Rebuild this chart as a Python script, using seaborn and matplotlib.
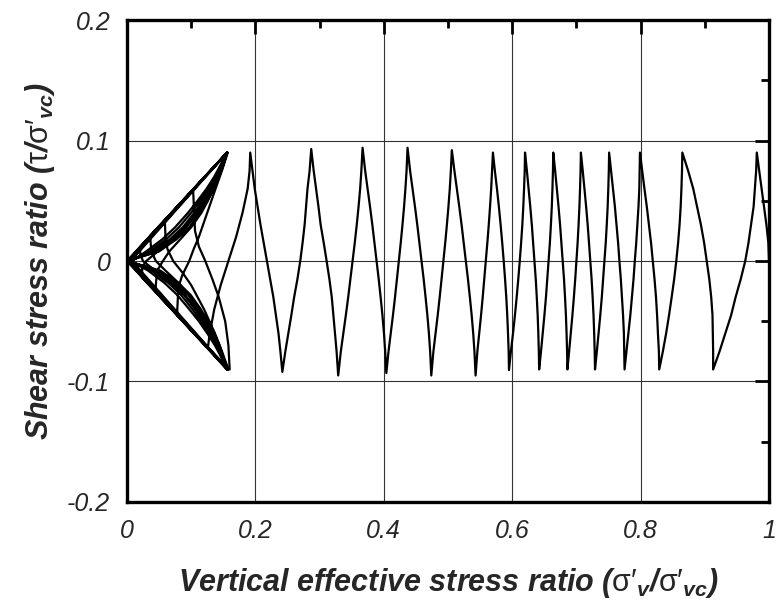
import matplotlib
matplotlib.use("Agg")
import matplotlib.pyplot as plt
import numpy as np
import pandas as pd
import seaborn as sns
from matplotlib.ticker import MultipleLocator

# ---------------- data ----------------
# initial loading from (1, 0) to the first peak
start_x = [1.000, 0.999, 0.996, 0.991, 0.986]
start_tau = [0.000, 0.015, 0.030, 0.050, 0.070]

# alternating peaks (top, bottom, top, ...) of the regular cycles
peak_x = [0.981, 0.913, 0.865, 0.829, 0.799, 0.775, 0.751, 0.729, 0.707, 0.686,
          0.664, 0.642, 0.620, 0.595, 0.570, 0.543, 0.506, 0.474, 0.437, 0.404,
          0.367, 0.329, 0.287, 0.242, 0.192]
peak_tau = [0.090, -0.090, 0.090, -0.090, 0.090, -0.090, 0.090, -0.090, 0.090, -0.090,
            0.090, -0.090, 0.090, -0.0905, 0.090, -0.095, 0.092, -0.095, 0.094, -0.093,
            0.094, -0.095, 0.093, -0.092, 0.090]

# intermediate points of each segment between two peaks
mid_tau_down = [0.075, 0.06, 0.045, 0.03, 0.015, 0.0, -0.015, -0.03, -0.045, -0.06, -0.075]
mid_tau_up = [-0.075, -0.06, -0.045, -0.03, -0.015, 0.0, 0.015, 0.03, 0.045, 0.06, 0.075]
mid_x = [
    [0.980, 0.978, 0.976, 0.972, 0.968, 0.963, 0.956, 0.948, 0.941, 0.932, 0.923],
    [0.913, 0.9125, 0.912, 0.910, 0.907, 0.903, 0.899, 0.894, 0.888, 0.882, 0.874],
    [0.8645, 0.8636, 0.8624, 0.8607, 0.8584, 0.8556, 0.8523, 0.8484, 0.8443, 0.8398, 0.8347],
    [0.8285, 0.827, 0.8257, 0.824, 0.8217, 0.819, 0.8163, 0.813, 0.8097, 0.806, 0.8025],
    [0.7985, 0.798, 0.7967, 0.795, 0.7932, 0.791, 0.789, 0.7865, 0.784, 0.781, 0.778],
    [0.7745, 0.774, 0.7727, 0.771, 0.7692, 0.767, 0.765, 0.7625, 0.760, 0.757, 0.754],
    [0.7505, 0.7497, 0.7487, 0.7473, 0.7457, 0.7437, 0.7418, 0.7396, 0.7372, 0.7346, 0.7319],
    [0.7285, 0.7277, 0.7267, 0.7253, 0.7237, 0.7217, 0.7198, 0.7176, 0.7152, 0.7126, 0.7099],
    [0.7065, 0.7057, 0.7047, 0.7034, 0.7019, 0.7001, 0.6982, 0.6961, 0.6938, 0.6913, 0.6887],
    [0.6855, 0.6847, 0.6837, 0.6823, 0.6807, 0.6787, 0.6768, 0.6746, 0.6722, 0.6696, 0.6669],
    [0.6635, 0.6627, 0.6617, 0.6603, 0.6587, 0.6567, 0.6548, 0.6526, 0.6502, 0.6476, 0.6449],
    [0.6415, 0.6407, 0.6397, 0.6383, 0.6367, 0.6347, 0.6328, 0.6306, 0.6282, 0.6256, 0.6229],
    [0.6195, 0.6185, 0.6173, 0.6158, 0.6139, 0.6118, 0.6095, 0.607, 0.6043, 0.6013, 0.598],
    [0.5945, 0.5935, 0.5923, 0.5908, 0.5889, 0.5868, 0.5845, 0.582, 0.5793, 0.5763, 0.573],
    [0.5687, 0.5673, 0.5655, 0.5635, 0.5613, 0.5589, 0.5565, 0.5541, 0.5515, 0.5487, 0.5458],
    [0.5412, 0.5393, 0.5369, 0.5341, 0.5311, 0.5278, 0.5245, 0.5212, 0.5176, 0.5138, 0.510],
    [0.5045, 0.5028, 0.5007, 0.4983, 0.4957, 0.4929, 0.4900, 0.4871, 0.4840, 0.4807, 0.4773],
    [0.4722, 0.4703, 0.4679, 0.4651, 0.4621, 0.4588, 0.4555, 0.4522, 0.4486, 0.4448, 0.441],
    [0.4355, 0.4337, 0.4316, 0.4291, 0.4264, 0.4235, 0.4205, 0.4175, 0.4143, 0.4109, 0.4074],
    [0.4022, 0.4003, 0.3979, 0.3951, 0.3921, 0.3888, 0.3855, 0.3822, 0.3786, 0.3748, 0.371],
    [0.3651, 0.3632, 0.3607, 0.3579, 0.3548, 0.3514, 0.348, 0.3446, 0.3409, 0.337, 0.3331],
    [0.3265, 0.324, 0.3215, 0.319, 0.3153, 0.311, 0.3065, 0.3017, 0.2983, 0.2946, 0.2908],
    [0.2845, 0.2812, 0.2789, 0.2767, 0.2735, 0.2699, 0.2655, 0.2604, 0.2560, 0.2514, 0.2467],
    [0.239, 0.236, 0.232, 0.228, 0.223, 0.218, 0.213, 0.208, 0.2035, 0.199, 0.1955],
]

# butterfly loops near the origin (after the last regular peak)
cluster_x = [
    # down 1
    0.191, 0.188, 0.180, 0.170, 0.158, 0.146, 0.136, 0.129, 0.126, 0.160,
    # up 1
    0.158, 0.153, 0.143, 0.133, 0.122, 0.112, 0.106, 0.103, 0.157,
    # down 2
    0.148, 0.138, 0.125, 0.112, 0.104, 0.097, 0.086, 0.080, 0.078, 0.158,
    # up 2
    0.148, 0.137, 0.120, 0.100, 0.087, 0.072, 0.063, 0.060, 0.059, 0.156,
    # down 3
    0.150, 0.143, 0.135, 0.126, 0.116, 0.100, 0.083, 0.066, 0.056, 0.047, 0.044, 0.157,
    # up 3
    0.150, 0.142, 0.134, 0.124, 0.113, 0.097, 0.080, 0.060, 0.045, 0.038, 0.036, 0.156,
    # down 4
    0.149, 0.141, 0.132, 0.121, 0.109, 0.091, 0.072, 0.048, 0.030, 0.024, 0.023, 0.157,
    # up 4
    0.149, 0.141, 0.131, 0.120, 0.107, 0.089, 0.069, 0.044, 0.025, 0.021, 0.020, 0.156,
    # down 5
    0.146, 0.136, 0.124, 0.110, 0.095, 0.075, 0.055, 0.030, 0.008, 0.157,
    # up 5
    0.147, 0.137, 0.125, 0.112, 0.097, 0.078, 0.058, 0.033, 0.006, 0.156,
    # down 6
    0.147, 0.138, 0.127, 0.114, 0.100, 0.081, 0.061, 0.036, 0.005, 0.157,
    # up 6
    0.148, 0.139, 0.128, 0.116, 0.102, 0.084, 0.064, 0.039, 0.004, 0.156,
    # down 7
    0.148, 0.140, 0.130, 0.118, 0.105, 0.087, 0.067, 0.041, 0.003, 0.156,
    # up 7
    0.149, 0.141, 0.131, 0.120, 0.107, 0.090, 0.070, 0.044, 0.002, 0.156,
    # down 8
    0.149, 0.141, 0.132, 0.121, 0.109, 0.092, 0.072, 0.046, 0.001, 0.156,
    # up 8
    0.150, 0.142, 0.133, 0.123, 0.111, 0.095, 0.075, 0.048, 0.001, 0.156,
    # down 9
    0.150, 0.143, 0.135, 0.125, 0.113, 0.097, 0.077, 0.050, 0.000, 0.156,
    # up 9
    0.150, 0.144, 0.136, 0.126, 0.115, 0.099, 0.079, 0.052, 0.000, 0.156,
]
cluster_tau = [
    0.075, 0.06, 0.04, 0.02, 0.0, -0.02, -0.04, -0.06, -0.072, -0.09,
    -0.07, -0.05, -0.03, -0.015, 0.0, 0.012, 0.025, 0.0594, 0.09,
    0.075, 0.06, 0.04, 0.02, 0.01, 0.0, -0.012, -0.022, -0.045, -0.09,
    -0.075, -0.06, -0.04, -0.02, -0.01, 0.0, 0.01, 0.02, 0.034, 0.09,
    0.08, 0.07, 0.06, 0.05, 0.04, 0.028, 0.018, 0.008, 0.0, -0.008, -0.0254, -0.09,
    -0.08, -0.07, -0.06, -0.05, -0.04, -0.028, -0.018, -0.008, 0.0, 0.008, 0.0208, 0.09,
    0.08, 0.07, 0.06, 0.05, 0.04, 0.028, 0.018, 0.008, 0.0, -0.005, -0.0133, -0.09,
    -0.08, -0.07, -0.06, -0.05, -0.04, -0.028, -0.018, -0.008, 0.0, 0.005, 0.0115, 0.09,
    0.08, 0.07, 0.06, 0.05, 0.04, 0.028, 0.018, 0.008, 0.0, -0.09,
    -0.08, -0.07, -0.06, -0.05, -0.04, -0.028, -0.018, -0.008, 0.0, 0.09,
    0.08, 0.07, 0.06, 0.05, 0.04, 0.028, 0.018, 0.008, 0.0, -0.09,
    -0.08, -0.07, -0.06, -0.05, -0.04, -0.028, -0.018, -0.008, 0.0, 0.09,
    0.08, 0.07, 0.06, 0.05, 0.04, 0.028, 0.018, 0.008, 0.0, -0.09,
    -0.08, -0.07, -0.06, -0.05, -0.04, -0.028, -0.018, -0.008, 0.0, 0.09,
    0.08, 0.07, 0.06, 0.05, 0.04, 0.028, 0.018, 0.008, 0.0, -0.09,
    -0.08, -0.07, -0.06, -0.05, -0.04, -0.028, -0.018, -0.008, 0.0, 0.09,
    0.08, 0.07, 0.06, 0.05, 0.04, 0.028, 0.018, 0.008, 0.0, -0.09,
    -0.08, -0.07, -0.06, -0.05, -0.04, -0.028, -0.018, -0.008, 0.0, 0.09,
]

x_ticks = [0, 0.2, 0.4, 0.6, 0.8, 1.0]
x_tick_labels = ["0", "0.2", "0.4", "0.6", "0.8", "1"]
y_ticks = [-0.2, -0.1, 0, 0.1, 0.2]
y_tick_labels = ["-0.2", "-0.1", "0", "0.1", "0.2"]

# ---------------- assemble the stress path ----------------
px = list(start_x)
pt = list(start_tau)
for i in range(len(peak_x) - 1):
    px.append(peak_x[i])
    pt.append(peak_tau[i])
    px.extend(mid_x[i])
    pt.extend(mid_tau_down if peak_tau[i] > 0 else mid_tau_up)
px.append(peak_x[-1])
pt.append(peak_tau[-1])
px.extend(cluster_x)
pt.extend(cluster_tau)
df = pd.DataFrame({"x": px, "tau": pt})

# ---------------- plot ----------------
sns.set_style("white")
plt.rcParams["font.family"] = ["Liberation Sans", "DejaVu Sans"]
plt.rcParams["mathtext.fontset"] = "custom"
plt.rcParams["mathtext.rm"] = "Liberation Sans"
plt.rcParams["mathtext.it"] = "Liberation Sans:italic"
plt.rcParams["mathtext.bf"] = "Liberation Sans:bold:italic"

fig = plt.figure(figsize=(7.77, 6.07), dpi=100)
ax = fig.add_axes([0.1634, 0.173, 0.8263, 0.794])

ax.grid(True, which="major", color="0.2", lw=0.8, zorder=0)
ax.set_axisbelow(True)

sns.lineplot(data=df, x="x", y="tau", sort=False, estimator=None,
             color="black", lw=1.6, ax=ax, zorder=3)

ax.set_xlim(0, 1)
ax.set_ylim(-0.2, 0.2)
ax.set_xticks(x_ticks)
ax.set_xticklabels(x_tick_labels)
ax.set_yticks(y_ticks)
ax.set_yticklabels(y_tick_labels)
ax.xaxis.set_minor_locator(MultipleLocator(0.1))
ax.yaxis.set_minor_locator(MultipleLocator(0.05))

ax.tick_params(which="both", direction="in", top=True, right=True,
               width=2, color="black")
ax.tick_params(which="major", length=10, labelsize=18)
ax.tick_params(axis="x", which="major", pad=12)
ax.tick_params(axis="y", which="major", pad=12)
ax.tick_params(which="minor", length=6)
for lab in ax.get_xticklabels() + ax.get_yticklabels():
    lab.set_fontstyle("italic")

for s in ax.spines.values():
    s.set_linewidth(2.4)
    s.set_color("black")
    s.set_zorder(5)

ax.set_xlabel(r"Vertical effective stress ratio ($\mathrm{\sigma\prime}_{\mathbf{v}}$/$\mathrm{\sigma\prime}_{\mathbf{vc}}$)",
              fontsize=22, fontweight="bold", fontstyle="italic", labelpad=17)
ax.set_ylabel(r"Shear stress ratio ($\mathrm{\tau}$/$\mathrm{\sigma\prime}_{\mathbf{vc}}$)",
              fontsize=22, fontweight="bold", fontstyle="italic", labelpad=7)

fig.savefig("out.png", dpi=100)
